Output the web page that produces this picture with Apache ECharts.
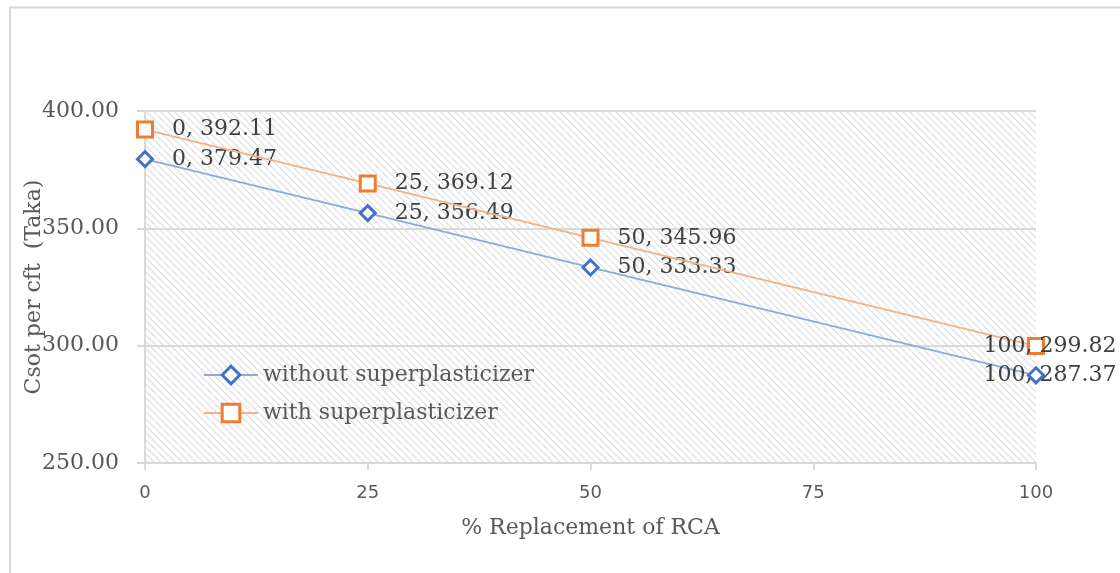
<!DOCTYPE html>
<html>
<head>
<meta charset="utf-8">
<script src="https://cdn.jsdelivr.net/npm/echarts@6/dist/echarts.min.js"></script>
<style>
  html, body { margin: 0; padding: 0; background: #ffffff; }
  #chart { width: 1120px; height: 573px; }
</style>
</head>
<body>
<div id="chart"></div>
<script>
// Cost per cft of concrete vs. % replacement of recycled coarse aggregate
const replacement = [0, 25, 50, 100];
const withoutSP = [379.47, 356.49, 333.33, 287.37];
const withSP = [392.11, 369.12, 345.96, 299.82];
const seriesNames = ['without superplasticizer', 'with superplasticizer'];
const xTitle = '% Replacement of RCA';
const yTitle = 'Csot per cft  (Taka)';

const serif = 'DejaVu Serif';
const sans = 'DejaVu Sans';

// Diagonal hatch tile for the plot background
function hatchTile() {
  const s = 7;
  const c = document.createElement('canvas');
  c.width = s; c.height = s;
  const g = c.getContext('2d');
  g.fillStyle = '#ffffff';
  g.fillRect(0, 0, s, s);
  g.strokeStyle = '#dedede';
  g.lineWidth = 1.2;
  g.beginPath();
  g.moveTo(-1, -1); g.lineTo(s + 1, s + 1);
  g.moveTo(-1, s - 1); g.lineTo(1, s + 1);
  g.moveTo(s - 1, -1); g.lineTo(s + 1, 1);
  g.stroke();
  return c;
}

function points(xs, ys) {
  return xs.map((x, i) => {
    const item = { value: [x, ys[i]] };
    if (i === xs.length - 1) {
      item.label = { position: 'inside', offset: [14, 0] };
    }
    return item;
  });
}

const labelStyle = {
  show: true,
  position: 'right',
  distance: 18,
  fontFamily: serif,
  fontSize: 22,
  color: '#404040',
  formatter: p => p.value[0] + ', ' + p.value[1].toFixed(2)
};

const chart = echarts.init(document.getElementById('chart'), null, { renderer: 'canvas' });
chart.setOption({
  animation: false,
  backgroundColor: '#ffffff',
  graphic: [{
    type: 'rect',
    silent: true,
    shape: { x: 10, y: 7.5, width: 1300, height: 800 },
    style: { fill: 'none', stroke: '#d9d9d9', lineWidth: 2 }
  }],
  grid: {
    left: 145, right: 84, top: 111, bottom: 110,
    show: true,
    borderWidth: 0,
    backgroundColor: { image: hatchTile(), repeat: 'repeat' }
  },
  legend: {
    orient: 'vertical',
    left: 198,
    top: 359,
    itemWidth: 54,
    itemHeight: 22,
    itemGap: 16,
    itemStyle: { borderWidth: 3 },
    textStyle: { fontFamily: serif, fontSize: 22, color: '#595959' },
    data: seriesNames
  },
  xAxis: {
    type: 'value',
    min: 0, max: 100, interval: 25,
    name: xTitle,
    nameLocation: 'middle',
    nameGap: 54,
    nameMoveOverlap: false,
    nameTextStyle: { fontFamily: serif, fontSize: 22, color: '#595959' },
    axisLine: { show: true, lineStyle: { color: '#d9d9d9', width: 2 } },
    axisTick: { show: true, length: 7, lineStyle: { color: '#d9d9d9', width: 2 } },
    axisLabel: { margin: 21, fontFamily: sans, fontSize: 18, color: '#595959' },
    splitLine: { show: false }
  },
  yAxis: {
    type: 'value',
    min: 250, max: 400, interval: 50,
    name: yTitle,
    nameLocation: 'middle',
    nameGap: 100,
    nameMoveOverlap: false,
    nameTextStyle: { fontFamily: serif, fontSize: 22, color: '#595959' },
    axisLine: { show: true, lineStyle: { color: '#d9d9d9', width: 2 } },
    axisTick: { show: true, length: 8, lineStyle: { color: '#d9d9d9', width: 2 } },
    axisLabel: {
      margin: 26,
      fontFamily: serif, fontSize: 22, color: '#595959',
      formatter: v => v.toFixed(2)
    },
    splitLine: { show: true, lineStyle: { color: '#d9d9d9', width: 2 } }
  },
  series: [
    {
      name: seriesNames[0],
      type: 'line',
      data: points(replacement, withoutSP),
      symbol: 'diamond',
      symbolSize: 15,
      itemStyle: { color: '#ffffff', borderColor: '#4472c4', borderWidth: 3 },
      lineStyle: { color: '#8eaadb', width: 1.8 },
      label: labelStyle,
      z: 3
    },
    {
      name: seriesNames[1],
      type: 'line',
      data: points(replacement, withSP),
      symbol: 'rect',
      symbolSize: 15,
      itemStyle: { color: '#ffffff', borderColor: '#ed7d31', borderWidth: 3 },
      lineStyle: { color: '#f4b183', width: 1.8 },
      label: labelStyle,
      z: 4
    }
  ]
});
</script>
</body>
</html>
